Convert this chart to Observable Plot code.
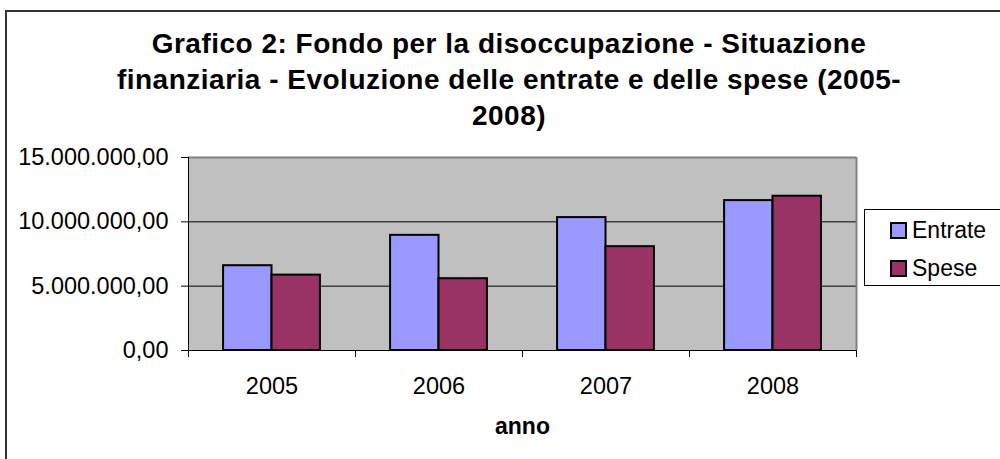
<!DOCTYPE html>
<html>
<head>
<meta charset="utf-8">
<script src="https://cdn.jsdelivr.net/npm/d3@7"></script>
<script src="https://cdn.jsdelivr.net/npm/@observablehq/plot@0.6"></script>
<style>
  html, body { margin: 0; padding: 0; background: #fff; }
  #wrap { position: relative; width: 1000px; height: 459px; overflow: hidden; background: #fff;
          font-family: "Liberation Sans", Arial, sans-serif; color: #000; }
  #border { position: absolute; left: 5px; top: 10px; width: 1100px; height: 600px;
            border-left: 2px solid #333; border-top: 2px solid #333; }
  #title { position: absolute; left: 0; top: 26px; width: 1018px; text-align: center;
           font-weight: bold; font-size: 28px; letter-spacing: 0.5px; line-height: 36px; }
  #chart { position: absolute; left: 0; top: 140px; }
  #legend { position: absolute; left: 864px; top: 209px; width: 200px; height: 75px;
            border: 1px solid #000; background: #fff; }
  .item { position: absolute; left: 25px; height: 26px; display: flex; align-items: center; font-size: 23px; }
  .sw { width: 13px; height: 13px; border: 2px solid #000; margin-right: 5px; }
</style>
</head>
<body>
<div id="wrap">
  <div id="border"></div>
  <div id="title">Grafico 2: Fondo per la disoccupazione - Situazione<br>finanziaria - Evoluzione delle entrate e delle spese (2005-<br>2008)</div>
  <div id="chart"></div>
  <div id="legend"></div>
</div>
<script>
// ---- data ----
const years = [2005, 2006, 2007, 2008];
const series = ["Entrate", "Spese"];
const entrate = [6590000, 8950000, 10330000, 11650000];
const spese = [5860000, 5580000, 8070000, 11990000];
const yTicks = [0, 5000000, 10000000, 15000000];
const colors = ["#9999FF", "#993366"];
const xLabel = "anno";

// ---- table ----
const rows = years.flatMap((y, i) => [
  {anno: y, serie: series[0], v: entrate[i], k: 0},
  {anno: y, serie: series[1], v: spese[i], k: 1}
]);
const barW = 0.29; // bar width in category units
const edges = years.map(y => y - 0.5).concat([years[years.length - 1] + 0.5]);

const it = d3.formatLocale({decimal: ",", thousands: ".", grouping: [3], currency: ["", ""]});
const fmt = it.format(",.2f");

const chart = Plot.plot({
  width: 1000,
  height: 319,
  marginLeft: 188,
  marginRight: 144,
  marginTop: 17,
  marginBottom: 109,
  style: {fontFamily: "'Liberation Sans', Arial, sans-serif", fontSize: "23.5px", background: "transparent", color: "#000"},
  x: {type: "linear", domain: [edges[0], edges[edges.length - 1]]},
  y: {domain: [0, 15000000]},
  color: {domain: series, range: colors},
  marks: [
    Plot.frame({fill: "#C0C0C0", stroke: "none"}),
    Plot.ruleY(yTicks.slice(1, -1), {stroke: "#000", strokeWidth: 1}),
    Plot.ruleY(yTicks.slice(-1), {stroke: "#808080", strokeWidth: 2}),
    Plot.ruleX(edges.slice(-1), {stroke: "#808080", strokeWidth: 2}),
    Plot.rectY(rows, {
      x1: d => d.anno - barW + d.k * barW,
      x2: d => d.anno + d.k * barW,
      y: "v",
      fill: "serie",
      stroke: "#000",
      strokeWidth: 2
    }),
    Plot.ruleX(edges.slice(0, 1), {stroke: "#000", strokeWidth: 1}),
    Plot.ruleY([0], {stroke: "#000", strokeWidth: 1}),
    Plot.axisY({ticks: yTicks, tickFormat: fmt, tickSize: 7, tickPadding: 13, label: null, stroke: "#000"}),
    Plot.axisX({ticks: edges, tickFormat: () => "", tickSize: 7, label: null, stroke: "#000"}),
    Plot.axisX({ticks: years, tickFormat: d => String(d), tickSize: 0, tickPadding: 27, label: null}),
    Plot.text([xLabel], {frameAnchor: "bottom", dy: 83, fontWeight: "bold", fontSize: 23})
  ]
});
document.getElementById("chart").appendChild(chart);

// ---- legend ----
const legend = document.getElementById("legend");
series.forEach((s, i) => {
  const item = document.createElement("div");
  item.className = "item";
  item.style.top = (7 + i * 38) + "px";
  const sw = document.createElement("div");
  sw.className = "sw";
  sw.style.background = colors[i];
  const t = document.createElement("span");
  t.textContent = s;
  item.appendChild(sw);
  item.appendChild(t);
  legend.appendChild(item);
});
</script>
</body>
</html>
